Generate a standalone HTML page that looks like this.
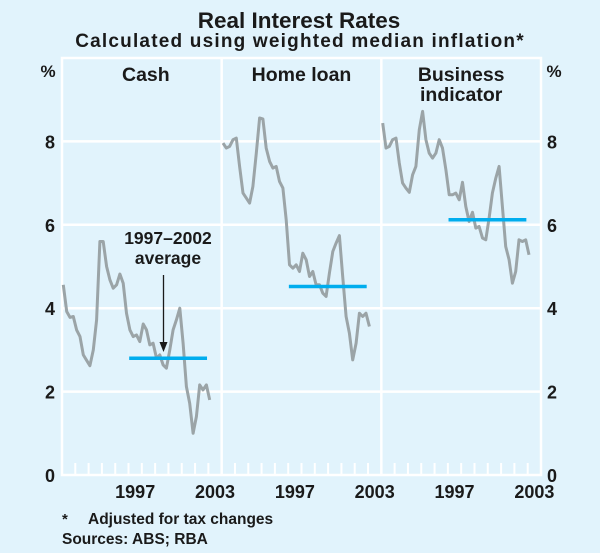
<!DOCTYPE html>
<html><head><meta charset="utf-8"><style>
html,body{margin:0;padding:0;background:#e1f3fc;}
svg{display:block;font-family:"Liberation Sans",Arial,sans-serif;}
</style></head><body>
<svg id="chart" width="600" height="553" viewBox="0 0 600 553">
<rect width="600" height="553" fill="#e1f3fc"/>
<text x="299" y="28" text-anchor="middle" font-size="22.5" font-weight="bold" fill="#1a1a1a">Real Interest Rates</text>
<text x="300" y="47" text-anchor="middle" font-size="19" letter-spacing="1.2" font-weight="bold" fill="#1a1a1a">Calculated using weighted median inflation*</text>
<g id="grid"></g>
<g id="marks"></g>
<g id="labels"></g>
<text x="62" y="524" font-size="15" font-weight="bold" fill="#1a1a1a">*</text>
<text x="88" y="524" font-size="15.5" font-weight="bold" fill="#1a1a1a">Adjusted for tax changes</text>
<text x="62" y="544" font-size="15.5" font-weight="bold" fill="#1a1a1a">Sources: ABS; RBA</text>
</svg>
<script>
const panelNames = ["Cash", "Home loan", "Business indicator"];
const yTicks = [0, 2, 4, 6, 8];
const xTickLabels = ["1997", "2003"];
const startYear = 1992.1;
const cashValues = [4.56,3.92,3.78,3.8,3.48,3.32,2.88,2.75,2.62,3.0,3.72,5.6,5.6,5.0,4.68,4.48,4.56,4.82,4.6,3.88,3.48,3.32,3.36,3.2,3.62,3.48,3.12,3.16,2.8,2.88,2.64,2.56,3.0,3.48,3.72,4.0,3.16,2.12,1.72,1.0,1.4,2.16,2.04,2.16,1.8];
const homeLoanValues = [7.96,7.84,7.88,8.04,8.08,7.4,6.76,6.64,6.52,6.92,7.72,8.56,8.54,7.84,7.52,7.36,7.4,7.04,6.88,6.12,5.04,4.96,5.04,4.88,5.32,5.16,4.76,4.88,4.56,4.56,4.36,4.28,4.84,5.36,5.56,5.74,4.76,3.8,3.4,2.76,3.16,3.88,3.8,3.88,3.56];
const businessValues = [8.44,7.84,7.88,8.04,8.08,7.48,7.0,6.88,6.78,7.2,7.4,8.28,8.72,8.04,7.72,7.6,7.72,8.04,7.84,7.32,6.72,6.72,6.76,6.6,7.02,6.44,6.08,6.3,5.92,5.96,5.68,5.64,6.16,6.76,7.12,7.4,6.44,5.48,5.16,4.6,4.88,5.64,5.6,5.64,5.28];
const averages = [2.8, 4.52, 6.12];
const avgStart = 1997.05, avgEnd = 2002.9;

const NS = "http://www.w3.org/2000/svg";
const L = 62, R = 541, T = 58, B = 475;
const panelW = (R - L) / 3;
function y(v){ return B - v / 10 * (B - T); }
function x(p, t){ return L + p * panelW + (t - 1992) / 12 * panelW; }
function mk(tag, attrs, parent){ const e = document.createElementNS(NS, tag); for (const k in attrs) e.setAttribute(k, attrs[k]); parent.appendChild(e); return e; }
const grid = document.getElementById("grid"), marks = document.getElementById("marks"), labels = document.getElementById("labels");

let fr = mk("rect", {x:L, y:T, width:R-L, height:B-T, fill:"none", stroke:"#fff", "stroke-width":2.5}, grid);


yTicks.forEach(v => {
  if (v > 0) {
    const g = mk("line", {x1:L, x2:R, y1:y(v), y2:y(v), stroke:"#fff", "stroke-width":2.5}, grid);
    
    
  }
  const tl = mk("text", {x:50, y:y(v)+7, "text-anchor":"middle", "font-size":18, "font-weight":"bold", fill:"#1a1a1a"}, labels);
  tl.textContent = v;
  
  
  const tr = mk("text", {x:552, y:y(v)+7, "text-anchor":"middle", "font-size":18, "font-weight":"bold", fill:"#1a1a1a"}, labels);
  tr.textContent = v;
  
  
});
["left","right"].forEach((s,i) => {
  const t = mk("text", {x: i ? 554 : 48, y:77, "text-anchor":"middle", "font-size":17, "font-weight":"bold", fill:"#1a1a1a"}, labels);
  t.textContent = "%";
  
  
});
const series = [cashValues, homeLoanValues, businessValues];
for (let p = 0; p < 3; p++) {
  if (p > 0) {
    const d = mk("line", {x1:x(p,1992), x2:x(p,1992), y1:T, y2:B, stroke:"#fff", "stroke-width":2.5}, grid);
    
    
  }
  for (let yr = 1993; yr <= 2003; yr++) {
    const tk = mk("line", {x1:x(p,yr), x2:x(p,yr), y1:B, y2:B-12, stroke:"#fff", "stroke-width":2}, grid);
    
    
  }
  xTickLabels.forEach(lb => {
    const t = mk("text", {x:x(p, +lb + 0.5), y:B+23, "text-anchor":"middle", "font-size":18, "font-weight":"bold", fill:"#1a1a1a"}, labels);
    t.textContent = lb;
    
    
  });
  const cx = L + p * panelW + panelW / 2;
  const words = p === 2 ? ["Business", "indicator"] : [panelNames[p]];
  words.forEach((w, i) => {
    const t = mk("text", {x:cx + (p===0?4:0), y:81 + i*20, "text-anchor":"middle", "font-size":19.5, "font-weight":"bold", fill:"#1a1a1a"}, labels);
    t.textContent = w;
    
    
  });
  const vals = series[p];
  const pts = vals.map((v, i) => x(p, startYear + i * 0.25).toFixed(1) + "," + y(v).toFixed(1)).join(" ");
  const pl = mk("polyline", {points:pts, fill:"none", stroke:"#9ba4a7", "stroke-width":3, "stroke-linejoin":"round"}, marks);
  
  
  const av = mk("line", {x1:x(p,avgStart), x2:x(p,avgEnd), y1:y(averages[p]), y2:y(averages[p]), stroke:"#00adee", "stroke-width":3.5}, marks);
  
  
}
[["1997–2002", 244], ["average", 264]].forEach(([s, yy], i) => {
  const t = mk("text", {x:168, y:yy, "text-anchor":"middle", "font-size":17.5, "font-weight":"bold", fill:"#1a1a1a"}, labels);
  t.textContent = s;
  
  
});
const ar = mk("line", {x1:163.5, x2:163.5, y1:275, y2:343, stroke:"#1a1a1a", "stroke-width":1.3}, labels);


const ah = mk("polygon", {points:"159.5,342 167.5,342 163.5,352", fill:"#1a1a1a"}, labels);


</script>
</body></html>
